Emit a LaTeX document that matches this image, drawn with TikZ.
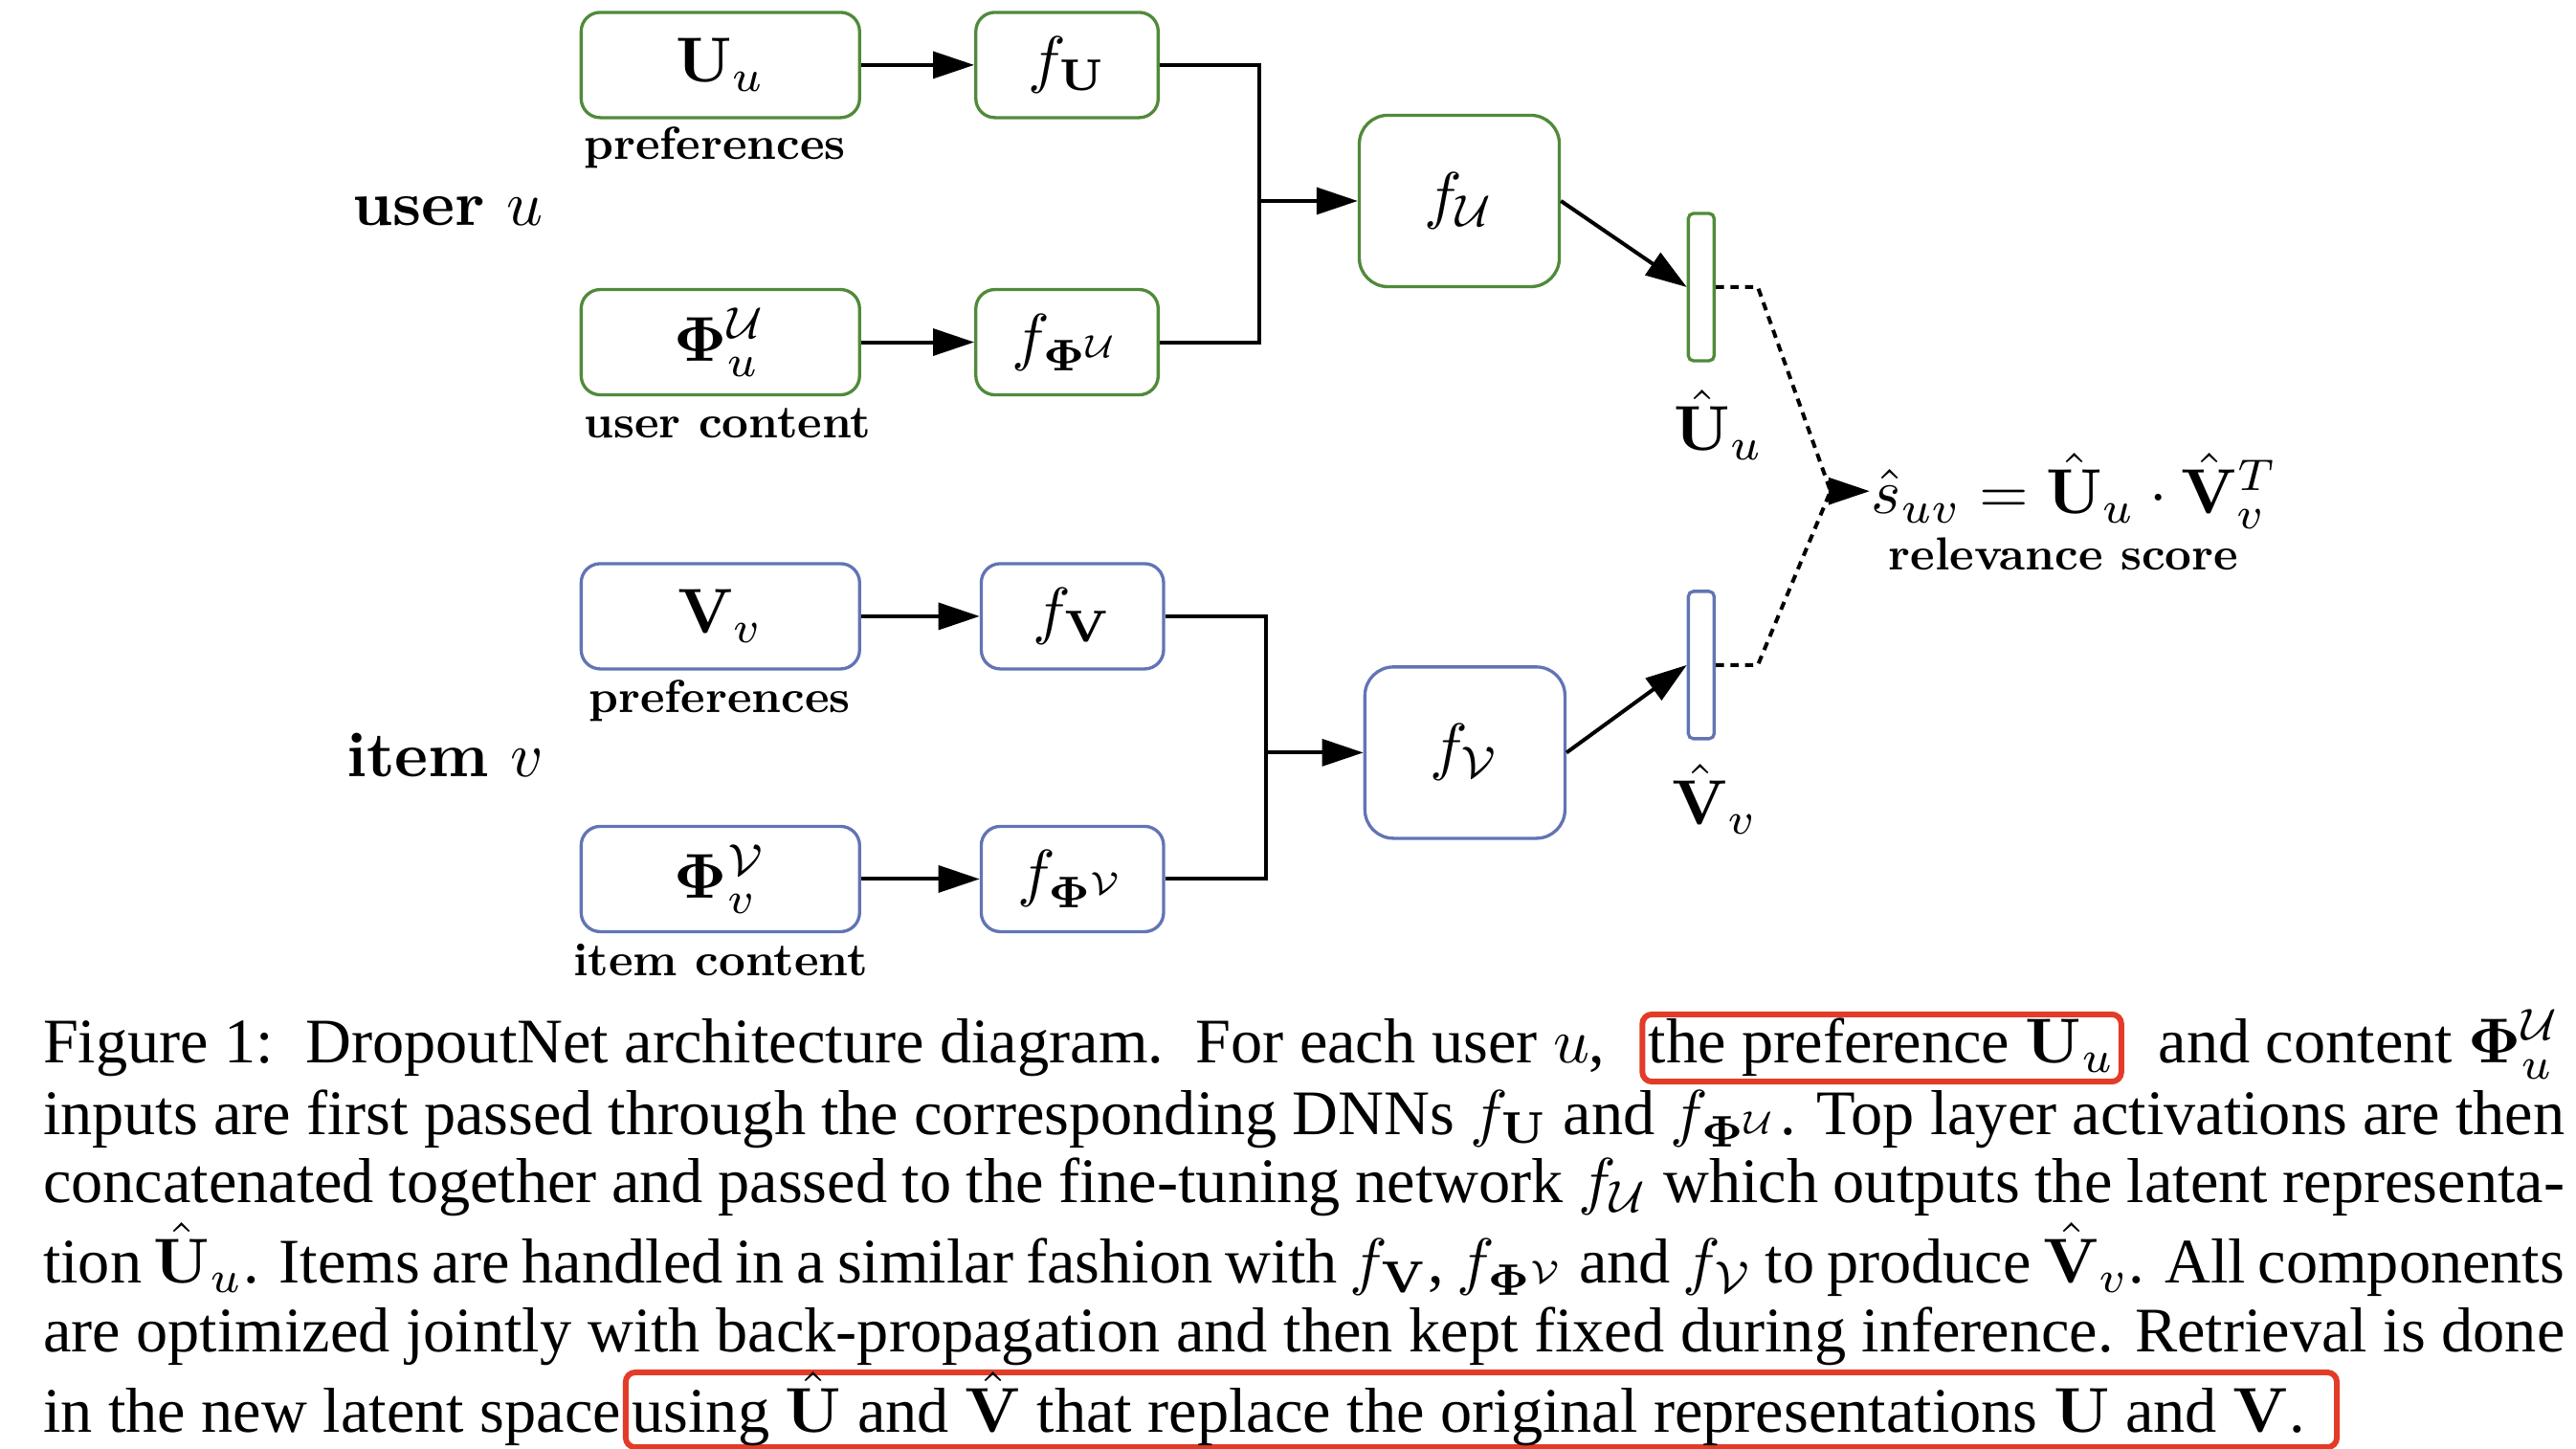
\documentclass[tikz,border=0pt]{standalone}
\usepackage[no-math]{fontspec}
\usepackage{graphicx}
\newfontfamily\capfont{Liberation Serif}
\usetikzlibrary{arrows.meta,calc}
\definecolor{usergreen}{RGB}{80,138,58}
\definecolor{itemblue}{RGB}{98,116,180}
\definecolor{markred}{RGB}{226,60,40}
\newcommand{\lbl}[1]{\scalebox{0.73}{\bfseries #1}}
\tikzset{
  box/.style={draw,line width=0.5pt,rounded corners=3pt,minimum height=0.583cm,inner sep=0pt},
  inbox/.style={box,minimum width=1.542cm},
  fbox/.style={box,minimum width=1.01cm},
  bigbox/.style={box,minimum width=1.108cm,minimum height=0.949cm,rounded corners=4.5pt},
  bar/.style={draw,line width=0.5pt,rounded corners=0.8pt,minimum width=0.143cm,minimum height=0.816cm,inner sep=0pt},
  lab/.style={inner sep=0pt},
  capline/.style={inner sep=0pt,font=\capfont\fontsize{10}{11}\selectfont},
  redbox/.style={capline,draw=markred,line width=0.9pt,rounded corners=1.5pt,inner xsep=1pt,inner ysep=0.5pt,text height=7.2pt,text depth=2.4pt},
  dots/.style={dash pattern=on 1.3pt off 1pt}
}

\begin{document}
\begin{tikzpicture}[>={Triangle[length=6.5pt,width=4.2pt]},line width=0.6pt]
        \useasboundingbox (0,0) rectangle (14.268,-8.024);
        % user side
        \node at(2.48,-1.171) {\textbf{user} $u$};
        \node[inbox,usergreen,text=black] (Uu) at(3.99,-0.36) {$\mathbf{U}_u$};
        \node[fbox,usergreen,text=black] (fU) at(5.91,-0.36) {$f_{\mathbf{U}}$};
        \node[inbox,usergreen,text=black] (PhiU) at(3.99,-1.895) {$\mathbf{\Phi}^{\mathcal{U}}_u$};
        \node[fbox,usergreen,text=black] (fPhiU) at(5.91,-1.895) {$f_{\mathbf{\Phi}^{\mathcal{U}}}$};
        \node[lab] at(3.96,-0.816) {\lbl{preferences}};
        \node[lab] at(4.03,-2.343) {\lbl{user content}};
        \node[bigbox,usergreen,text=black] (fUU) at(8.083,-1.113) {$f_{\mathcal{U}}$};
        \node[bar,usergreen] (Uhat) at(9.423,-1.59) {};
        \node at(9.52,-2.353) {$\hat{\mathbf{U}}_u$};
        \coordinate (jU) at(6.975,-1.113);
        \draw[->](Uu)--(fU);
        \draw[->](PhiU)--(fPhiU);
        \draw(fU.east)-|(jU)|-(fPhiU.east);
        \draw[->](jU)--(fUU);
        \draw[->](fUU.east)--(Uhat.west);
        % item side
        \node at(2.465,-4.18) {\textbf{item} $v$};
        \node[inbox,itemblue,text=black] (Vv) at(3.99,-3.413) {$\mathbf{V}_v$};
        \node[fbox,itemblue,text=black] (fV) at(5.94,-3.413) {$f_{\mathbf{V}}$};
        \node[inbox,itemblue,text=black] (PhiV) at(3.99,-4.868) {$\mathbf{\Phi}^{\mathcal{V}}_v$};
        \node[fbox,itemblue,text=black] (fPhiV) at(5.94,-4.868) {$f_{\mathbf{\Phi}^{\mathcal{V}}}$};
        \node[lab] at(3.986,-3.88) {\lbl{preferences}};
        \node[lab] at(3.99,-5.316) {\lbl{item content}};
        \node[bigbox,itemblue,text=black] (fVV) at(8.114,-4.168) {$f_{\mathcal{V}}$};
        \node[bar,itemblue] (Vhat) at(9.423,-3.683) {};
        \node at(9.50,-4.426) {$\hat{\mathbf{V}}_v$};
        \coordinate (jV) at(7.012,-4.168);
        \draw[->](Vv)--(fV);
        \draw[->](PhiV)--(fPhiV);
        \draw(fV.east)-|(jV)|-(fPhiV.east);
        \draw[->](jV)--(fVV);
        \draw[->](fVV.east)--(Vhat.west);
        % score
        \node[anchor=west,inner sep=0pt] (score) at(10.356,-2.72) {$\hat{s}_{uv}=\hat{\mathbf{U}}_u\cdot\hat{\mathbf{V}}_v^T$};
        \node[lab] at(11.43,-3.07) {\lbl{relevance score}};
        \coordinate (m) at(10.139,-2.72);
        \draw[dots](Uhat.east)--++(0.233,0)--(m);
        \draw[dots](Vhat.east)--++(0.233,0)--(m);
        \draw[->](m)--(score.west);
        % caption
        \node[capline,anchor=base west] (c1a) at(0.228,-5.888) {Figure 1:\ \ DropoutNet architecture diagram.\ \ For each user $u$,};
        \node[capline,anchor=base east] (c1c) at(14.194,-5.888) {and content $\mathbf{\Phi}^{\mathcal{U}}_u$};
        \node[redbox,anchor=base] (c1b) at($(c1a.base east)!0.5!(c1c.base west)$) {the preference $\mathbf{U}_u$};
        \node[capline,anchor=base west] (c2) at(0.228,-6.281) {\hbox to 397.4pt{inputs are first passed through the corresponding DNNs $f_{\mathbf{U}}$ and $f_{\mathbf{\Phi}^{\mathcal{U}}}$. Top layer activations are then}};
        \node[capline,anchor=base west] (c3) at(0.228,-6.662) {\hbox to 397.4pt{concatenated together and passed to the fine-tuning network $f_{\mathcal{U}}$ which outputs the latent representa-}};
        \node[capline,anchor=base west] (c4) at(0.228,-7.107) {\hbox to 397.4pt{tion $\hat{\mathbf{U}}_u$. Items are handled in a similar fashion with $f_{\mathbf{V}}$, $f_{\mathbf{\Phi}^{\mathcal{V}}}$ and $f_{\mathcal{V}}$ to produce $\hat{\mathbf{V}}_v$. All components}};
        \node[capline,anchor=base west] (c5) at(0.228,-7.489) {\hbox to 397.4pt{are optimized jointly with back-propagation and then kept fixed during inference. Retrieval is done}};
        \node[capline,anchor=base west] (c6a) at(0.228,-7.934) {in the new latent space};
        \node[redbox,anchor=base west,text height=9pt,text depth=1.8pt] (c6b) at(c6a.base east) {using $\hat{\mathbf{U}}$ and $\hat{\mathbf{V}}$ that replace the original representations $\mathbf{U}$ and $\mathbf{V}$.\kern4pt};
    \end{tikzpicture}
\end{document}
